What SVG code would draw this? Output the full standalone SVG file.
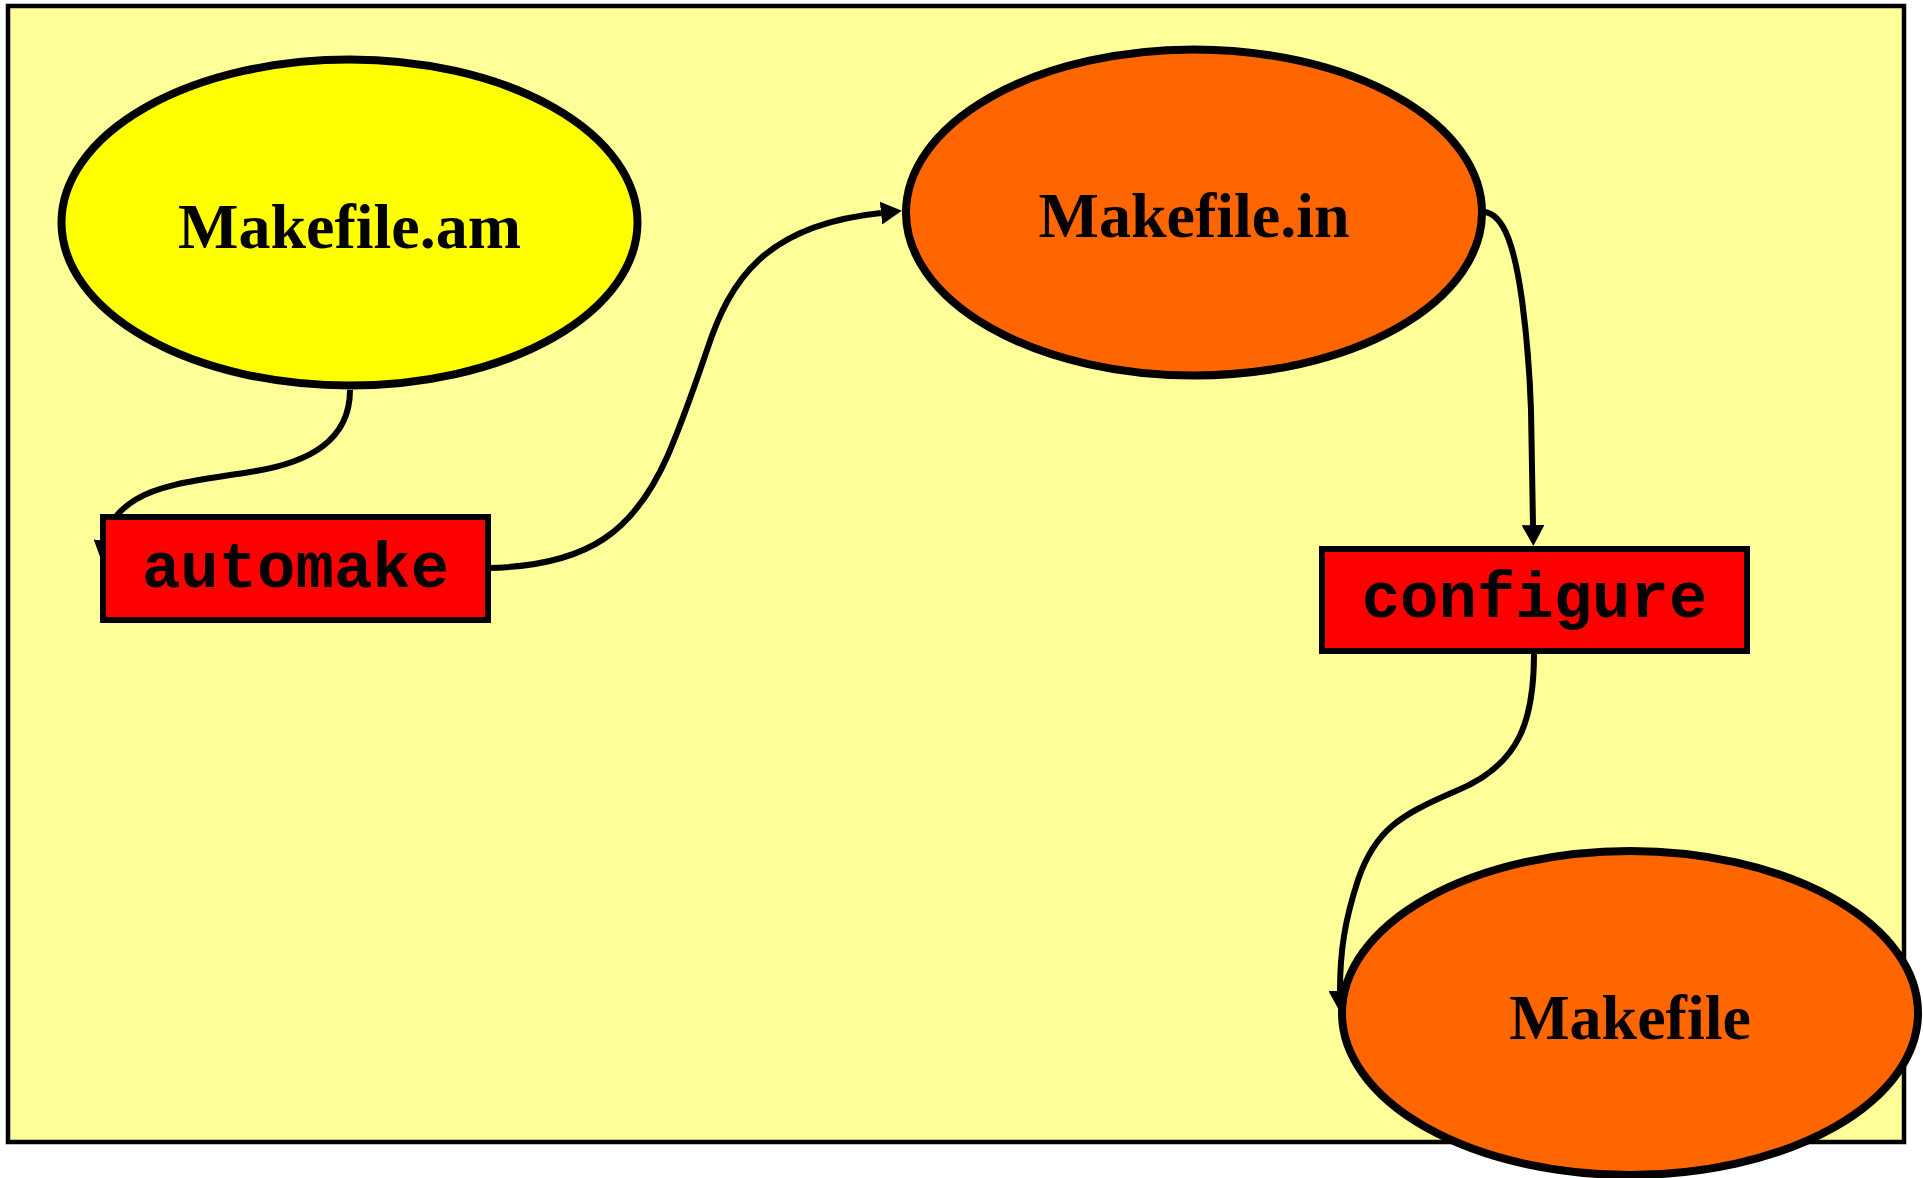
<svg xmlns="http://www.w3.org/2000/svg" width="1923" height="1178" viewBox="0 0 1923 1178">
<style>
.bg{fill:#ffff99;stroke:#000;stroke-width:4.5}
.file{stroke:#000;stroke-width:8}
.tool{fill:#ff0000;stroke:#000;stroke-width:6}
.lbl{font-family:"Liberation Serif","Times New Roman",serif;font-weight:bold;font-size:64px;text-anchor:middle;fill:#000}
.cmd{font-family:"Liberation Mono","Courier New",monospace;font-weight:bold;font-size:64px;text-anchor:middle;fill:#000}
.edge{fill:none;stroke:#000;stroke-width:6;marker-end:url(#arr)}
</style>
<defs>
<marker id="arr" viewBox="0 0 21 23" refX="0" refY="11.5" markerWidth="21" markerHeight="23" markerUnits="userSpaceOnUse" orient="auto">
<path d="M0,0 L21,11.5 L0,23 z" fill="#000"/>
</marker>
</defs>
<rect class="bg" x="8" y="6" width="1896" height="1136"/>
<g id="connectors">
<path class="edge" d="M350,390 C350,440 310,463 250,472 C200,480 160,484 135,500 C114,513 107,528 105,541"/>
<path class="edge" d="M488,568 C590,566 635,530 668,455 C685,415 695,385 707,350 C730,280 765,225 881,213"/>
<path class="edge" d="M1485,212 C1505,215 1515,250 1522,300 C1528,345 1530,380 1531,410 L1533,525"/>
<path class="edge" d="M1534,654 C1534,720 1520,765 1456,791 C1400,815 1375,830 1358,880 C1345,920 1340,950 1340,991"/>
</g>
<g id="makefile_am">
<ellipse class="file" cx="349.5" cy="222.5" rx="288" ry="163" fill="#ffff00"/>
<text class="lbl" x="349.5" y="248">Makefile.am</text>
</g>
<g id="automake">
<rect class="tool" x="103" y="517" width="385" height="103"/>
<text class="cmd" x="295.5" y="587">automake</text>
</g>
<g id="makefile_in">
<ellipse class="file" cx="1194" cy="212.5" rx="288" ry="163" fill="#ff6600"/>
<text class="lbl" x="1194" y="237">Makefile.in</text>
</g>
<g id="configure">
<rect class="tool" x="1322" y="549" width="425" height="102"/>
<text class="cmd" x="1534.5" y="617">configure</text>
</g>
<g id="makefile">
<ellipse class="file" cx="1630" cy="1013" rx="288" ry="162" fill="#ff6600"/>
<text class="lbl" x="1630" y="1039">Makefile</text>
</g>
</svg>
